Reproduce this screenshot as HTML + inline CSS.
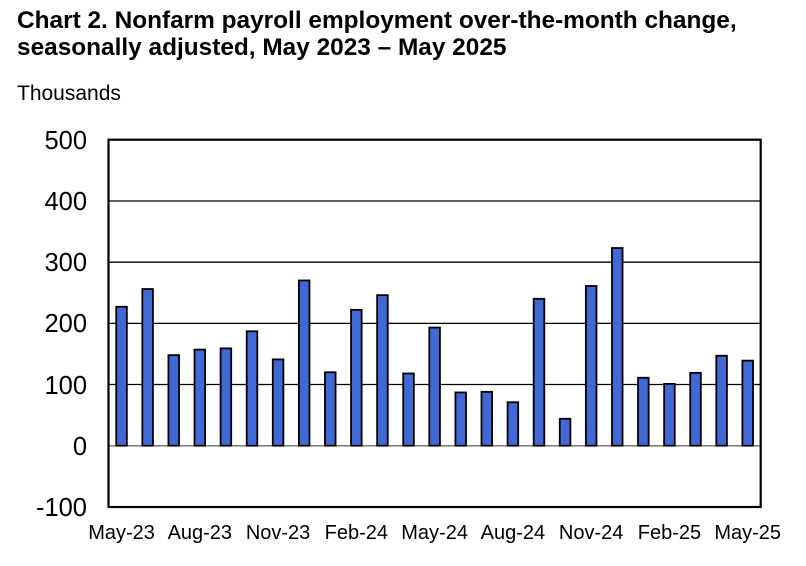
<!DOCTYPE html>
<html><head><meta charset="utf-8"><style>
html,body{margin:0;padding:0;background:#fff;}
svg{display:block;font-family:"Liberation Sans",Arial,sans-serif;}
</style></head><body>
<svg width="806" height="566" viewBox="0 0 806 566" xmlns="http://www.w3.org/2000/svg">
<text x="17" y="28" font-size="24.4" font-weight="bold">Chart 2. Nonfarm payroll employment over-the-month change,</text>
<text x="17" y="55" font-size="24.4" font-weight="bold">seasonally adjusted, May 2023 – May 2025</text>
<text x="17" y="100" font-size="21">Thousands</text>
<g stroke="#000" stroke-width="1.3">
<line x1="108.5" x2="760.7" y1="201" y2="201"/>
<line x1="108.5" x2="760.7" y1="262.2" y2="262.2"/>
<line x1="108.5" x2="760.7" y1="323.4" y2="323.4"/>
<line x1="108.5" x2="760.7" y1="384.5" y2="384.5"/>
</g>
<line x1="108.5" x2="760.7" y1="445.7" y2="445.7" stroke="#777" stroke-width="1.5"/>
<g id="bars" fill="#4169d6" stroke="#000" stroke-width="1.8"></g>
<rect x="108.5" y="139.7" width="652.2" height="367.3" fill="none" stroke="#000" stroke-width="2.2"/>
<g font-size="25.5" text-anchor="end">
<text x="87" y="149">500</text>
<text x="87" y="210">400</text>
<text x="87" y="271">300</text>
<text x="87" y="332">200</text>
<text x="87" y="394">100</text>
<text x="87" y="455">0</text>
<text x="87" y="516">-100</text>
</g>
<g font-size="20" text-anchor="middle" id="xl"></g>
</svg>
<script>
var v=[227,256,148,157,159,187,141,270,120,222,246,118,193,87,88,71,240,44,261,323,111,101,119,147,139];
var g=document.getElementById('bars'),ns='http://www.w3.org/2000/svg';
var w=26.09,x0=108.5,z=445.7,s=0.612;
v.forEach(function(d,i){var c=x0+(i+0.5)*w;var r=document.createElementNS(ns,'rect');
r.setAttribute('x',c-5.3);r.setAttribute('width',10.6);r.setAttribute('y',z-d*s);r.setAttribute('height',d*s);g.appendChild(r);});
var L=['May-23','Aug-23','Nov-23','Feb-24','May-24','Aug-24','Nov-24','Feb-25','May-25'];
var xl=document.getElementById('xl');
L.forEach(function(t,j){var c=x0+(j*3+0.5)*w;var e=document.createElementNS(ns,'text');e.setAttribute('x',c);e.setAttribute('y',539);e.textContent=t;xl.appendChild(e);});
</script>
</body></html>
